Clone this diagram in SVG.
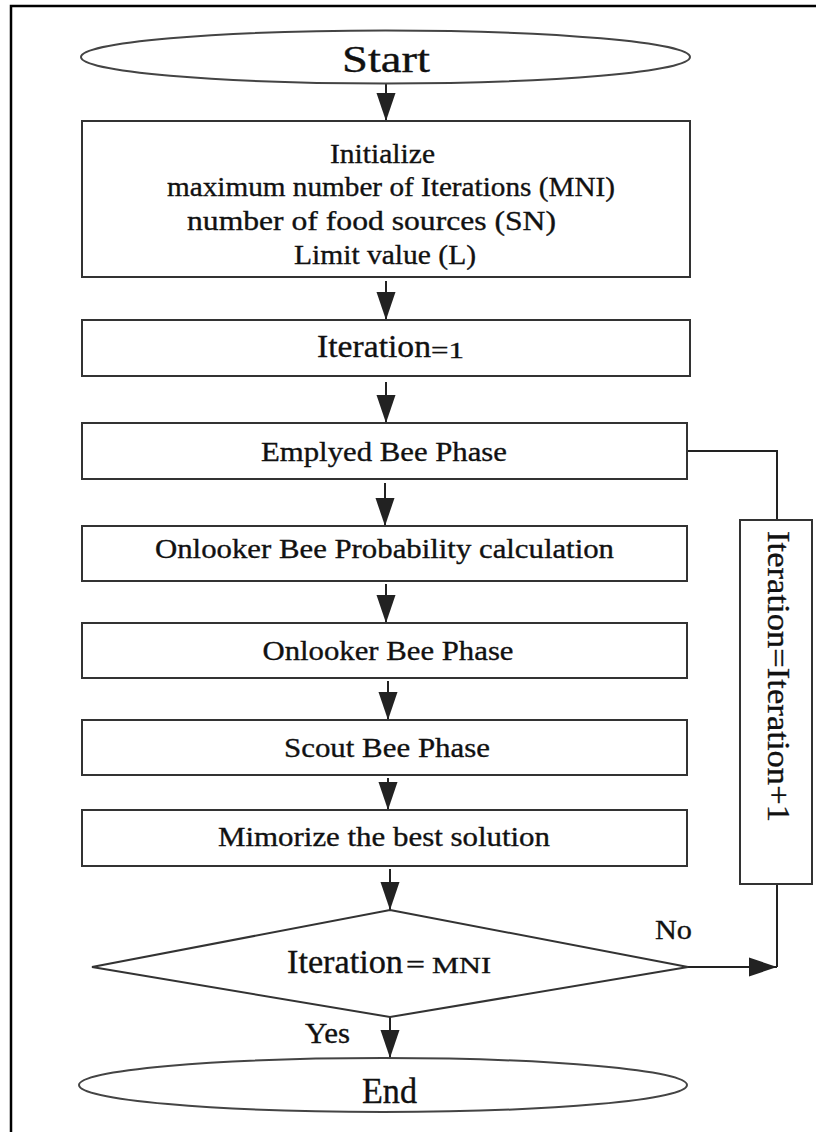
<svg xmlns="http://www.w3.org/2000/svg" width="816" height="1132" viewBox="0 0 816 1132">
<defs>
<marker id="ah" markerWidth="28" markerHeight="20" refX="28" refY="10" orient="auto" markerUnits="userSpaceOnUse"><path d="M0,0.5 L28,10 L0,19.5 Z" fill="#222"/></marker>
<style>
.box{fill:#fff;stroke:#333;stroke-width:2}
.ell{fill:#fff;stroke:#444;stroke-width:2}
.ln{fill:none;stroke:#222;stroke-width:2}
text{font-family:"Liberation Serif","Times New Roman",serif;fill:#111;stroke:#111;stroke-width:0.35}
.c{text-anchor:middle}
</style>
</defs>
<rect width="816" height="1132" fill="#fff"/>
<path d="M11,1132 V6 H816" fill="none" stroke="#000" stroke-width="2.5"/>

<g id="connectors">
<line class="ln" x1="386" y1="84" x2="386" y2="121" marker-end="url(#ah)"/>
<line class="ln" x1="386" y1="281" x2="386" y2="320" marker-end="url(#ah)"/>
<line class="ln" x1="386" y1="382" x2="386" y2="423" marker-end="url(#ah)"/>
<line class="ln" x1="385" y1="483" x2="385" y2="526" marker-end="url(#ah)"/>
<line class="ln" x1="386" y1="584" x2="386" y2="623" marker-end="url(#ah)"/>
<line class="ln" x1="388" y1="681" x2="388" y2="720" marker-end="url(#ah)"/>
<line class="ln" x1="388" y1="778" x2="388" y2="810" marker-end="url(#ah)"/>
<line class="ln" x1="390" y1="869" x2="390" y2="910" marker-end="url(#ah)"/>
<line class="ln" x1="390" y1="1017" x2="390" y2="1058" marker-end="url(#ah)"/>
<line class="ln" x1="688" y1="967" x2="777" y2="967" marker-end="url(#ah)"/>
<polyline class="ln" points="777,967 777,884"/>
<polyline class="ln" points="687,451 777,451 777,520"/>
</g>

<g id="start">
<ellipse class="ell" cx="385.5" cy="57" rx="304.5" ry="26.5"/>
<text class="c" x="386" y="72" font-size="37" textLength="88" lengthAdjust="spacingAndGlyphs">Start</text>
</g>

<g id="init">
<rect class="box" x="82" y="121" width="608" height="156"/>
<text class="c" x="382.5" y="163" font-size="28" textLength="105" lengthAdjust="spacingAndGlyphs">Initialize</text>
<text class="c" x="391" y="196" font-size="28" textLength="448" lengthAdjust="spacingAndGlyphs">maximum number of Iterations (MNI)</text>
<text class="c" x="371.5" y="230" font-size="28" textLength="369" lengthAdjust="spacingAndGlyphs">number of food sources (SN)</text>
<text class="c" x="385" y="264" font-size="28" textLength="182" lengthAdjust="spacingAndGlyphs">Limit value (L)</text>
</g>

<g id="iter1">
<rect class="box" x="82" y="320" width="608" height="56"/>
<text x="317" y="357" font-size="32" textLength="114" lengthAdjust="spacingAndGlyphs">Iteration</text>
<text x="431" y="358" font-size="23" textLength="33" lengthAdjust="spacingAndGlyphs">=1</text>
</g>

<g id="employed">
<rect class="box" x="82" y="423" width="605" height="56"/>
<text class="c" x="384" y="461" font-size="28" textLength="246" lengthAdjust="spacingAndGlyphs">Emplyed Bee Phase</text>
</g>

<g id="onlooker-prob">
<rect class="box" x="82" y="526" width="605" height="55"/>
<text class="c" x="384.5" y="558" font-size="28" textLength="459" lengthAdjust="spacingAndGlyphs">Onlooker Bee Probability calculation</text>
</g>

<g id="onlooker">
<rect class="box" x="82" y="623" width="605" height="55"/>
<text class="c" x="388" y="660" font-size="28" textLength="251" lengthAdjust="spacingAndGlyphs">Onlooker Bee Phase</text>
</g>

<g id="scout">
<rect class="box" x="82" y="720" width="605" height="55"/>
<text class="c" x="387" y="757" font-size="28" textLength="206" lengthAdjust="spacingAndGlyphs">Scout Bee Phase</text>
</g>

<g id="memorize">
<rect class="box" x="82" y="810" width="605" height="56"/>
<text class="c" x="384" y="846" font-size="28" textLength="332" lengthAdjust="spacingAndGlyphs">Mimorize the best solution</text>
</g>

<g id="decision">
<path class="box" d="M390,910 L688,967 L390,1017 L92,967 Z"/>
<text x="287" y="973" font-size="33" textLength="116" lengthAdjust="spacingAndGlyphs">Iteration</text>
<text x="406" y="973" font-size="26" textLength="19" lengthAdjust="spacingAndGlyphs">=</text>
<text x="432" y="973" font-size="24" textLength="59" lengthAdjust="spacingAndGlyphs">MNI</text>
<text x="655" y="939" font-size="28" textLength="37" lengthAdjust="spacingAndGlyphs">No</text>
<text x="305" y="1043" font-size="29" textLength="45" lengthAdjust="spacingAndGlyphs">Yes</text>
</g>

<g id="increment">
<rect class="box" x="740" y="520" width="72" height="364"/>
<text class="c" transform="translate(768,676.5) rotate(90)" font-size="32" textLength="291" lengthAdjust="spacingAndGlyphs">Iteration=Iteration+1</text>
</g>

<g id="end">
<ellipse class="ell" cx="383" cy="1085" rx="304" ry="27"/>
<text class="c" x="389.5" y="1103" font-size="35" textLength="55" lengthAdjust="spacingAndGlyphs">End</text>
</g>
</svg>
